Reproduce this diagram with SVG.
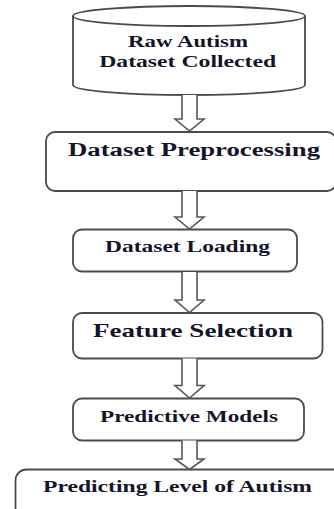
<svg xmlns="http://www.w3.org/2000/svg" width="334" height="509" viewBox="0 0 334 509">
<style>
.box{fill:#fff;stroke:#4a4a4a;stroke-width:1.8}
.arr{fill:#fff;stroke:#555;stroke-width:1.6;stroke-linejoin:miter}
.t{font-family:'Liberation Serif','DejaVu Serif','Times New Roman',serif;font-weight:bold;fill:#14142a;text-anchor:middle}
</style>
<rect width="334" height="509" fill="#fff"/>
<g id="raw">
<path class="box" d="M73,16 V85 A116,10 0 0 0 305,85 V16"/>
<ellipse class="box" cx="189" cy="16" rx="116" ry="10"/>
<text class="t" x="188" y="46.5" font-size="16.5" textLength="120" lengthAdjust="spacingAndGlyphs">Raw Autism</text>
<text class="t" x="187.7" y="66.7" font-size="16.5" textLength="177" lengthAdjust="spacingAndGlyphs">Dataset Collected</text>
</g>
<g id="preprocessing">
<rect class="box" x="46" y="132" width="290" height="59" rx="9"/>
<text class="t" x="194" y="156" font-size="18" textLength="252" lengthAdjust="spacingAndGlyphs">Dataset Preprocessing</text>
</g>
<g id="loading">
<rect class="box" x="73" y="229.5" width="224" height="42" rx="9"/>
<text class="t" x="187.5" y="251.7" font-size="16.5" textLength="165" lengthAdjust="spacingAndGlyphs">Dataset Loading</text>
</g>
<g id="feature">
<rect class="box" x="73" y="313" width="249.5" height="45.5" rx="9"/>
<text class="t" x="193" y="337.3" font-size="19" textLength="200" lengthAdjust="spacingAndGlyphs">Feature Selection</text>
</g>
<g id="models">
<rect class="box" x="73" y="398.5" width="231" height="42" rx="9"/>
<text class="t" x="189" y="421.7" font-size="17" textLength="178" lengthAdjust="spacingAndGlyphs">Predictive Models</text>
</g>
<g id="predicting">
<rect class="box" x="15.5" y="469.5" width="340" height="60" rx="11"/>
<text class="t" x="177.5" y="491.7" font-size="16.5" textLength="269" lengthAdjust="spacingAndGlyphs">Predicting Level of Autism</text>
</g>
<g id="connectors">
<path class="arr" d="M182,95 V119 H175 L189.5,131 L204,119 H197 V95"/>
<path class="arr" d="M182,191 V217 H175 L189.5,229 L204,217 H197 V191"/>
<path class="arr" d="M182,272 V300 H175 L189.5,312.5 L204,300 H197 V272"/>
<path class="arr" d="M182,358.5 V385.5 H175 L189.5,398 L204,385.5 H197 V358.5"/>
<path class="arr" d="M182,440.5 V459 H175 L189.5,469.5 L204,459 H197 V440.5"/>
</g>
</svg>
